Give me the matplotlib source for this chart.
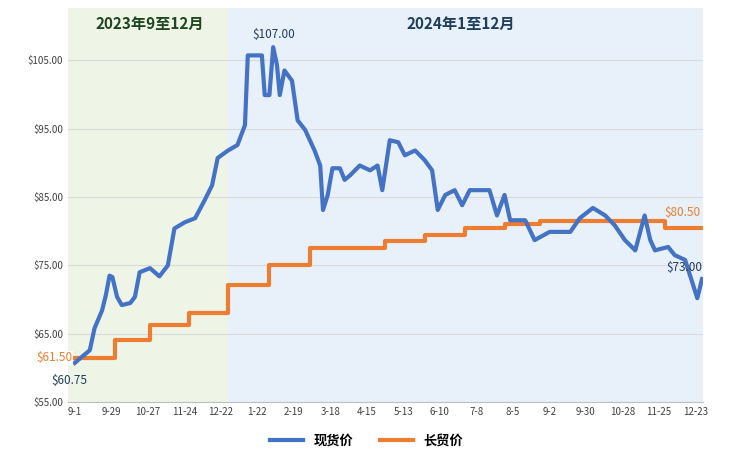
import matplotlib
matplotlib.use("Agg")
import matplotlib.pyplot as plt
import numpy as np

plt.rcParams['font.family'] = ['Noto Sans CJK SC', 'DejaVu Sans']

tick_labels = ["9-1","9-29","10-27","11-24","12-22","1-22","2-19","3-18","4-15","5-13",
               "6-10","7-8","8-5","9-2","9-30","10-28","11-25","12-23"]
spot_x = [0,0.3,1.6,2.1,2.9,3.3,3.7,4.0,4.5,5.0,5.9,6.4,6.9,8.0,9.0,9.9,10.6,11.7,12.8,13.8,14.6,15.2,16.3,
          17.3,18.1,18.4,19.9,20.2,20.7,21.1,21.5,21.8,22.3,23.1,23.7,24.5,25.5,26.1,26.4,26.9,27.4,28.2,28.7,
          29.3,30.3,31.4,32.2,32.7,33.5,34.4,35.1,36.2,37.2,38.0,38.6,39.4,40.4,41.2,42.0,44.1,44.9,45.7,46.3,
          47.9,48.9,50.5,52.7,53.7,55.1,56.4,57.4,58.5,59.6,60.6,61.2,61.7,63.1,63.8,64.9,65.6,66.2,66.7]
spot_y = [60.75,61.1,62.6,65.8,68.4,70.6,73.5,73.3,70.4,69.2,69.5,70.4,74.0,74.6,73.4,75.0,80.4,81.3,81.9,84.5,86.7,90.7,91.8,
          92.6,95.5,105.7,105.7,99.9,99.9,106.9,104.3,99.9,103.5,102.0,96.2,94.8,91.8,89.6,83.1,85.3,89.2,89.2,87.5,
          88.2,89.6,88.9,89.6,86.0,93.3,93.0,91.1,91.8,90.4,88.9,83.1,85.3,86.0,83.8,86.0,86.0,82.3,85.3,81.6,
          81.6,78.7,79.9,79.9,81.9,83.4,82.3,80.9,78.7,77.2,82.3,78.7,77.2,77.7,76.5,75.8,72.8,70.2,73.0]
long_edges = [-0.7,4.3,8.0,12.2,16.3,20.7,25.0,33.0,37.2,41.5,45.7,49.5,62.8,66.8]
long_vals = [61.5,64.1,66.3,68.0,72.1,75.0,77.5,78.5,79.5,80.5,81.0,81.5,80.5]

fig = plt.figure(figsize=(7.33,4.55), dpi=100)
ax = fig.add_axes([0.093,0.116,0.866,0.866])
ax.set_xlim(-0.7,66.8); ax.set_ylim(55,112.6)
ax.axvspan(-0.7,16.3,color='#eef5e6',zorder=0)
ax.axvspan(16.3,66.8,color='#e8f1fa',zorder=0)
for v in range(55,110,10):
    ax.axhline(v,color='#d9d9d9',lw=0.8,zorder=1)
ax.plot(spot_x,spot_y,color='#4472c4',lw=3,label='现货价',zorder=3)
sx = []; sy = []
for i,v in enumerate(long_vals):
    sx += [long_edges[i],long_edges[i+1]]; sy += [v,v]
ax.plot(sx,sy,color='#ed7d31',lw=3,label='长贸价',zorder=2)
ticks = np.linspace(0,66,18)
ax.set_xticks(ticks); ax.set_xticklabels(tick_labels,fontsize=7)
ax.set_yticks(range(55,110,10)); ax.set_yticklabels([f"${v}.00" for v in range(55,110,10)],fontsize=7)
for s in ax.spines.values(): s.set_visible(False)
ax.spines['bottom'].set_visible(True); ax.spines['bottom'].set_color('#bfbfbf')
ax.tick_params(length=0,colors='#404040')
ax.text(8.0,110.3,'2023年9至12月',ha='center',va='center',fontsize=11,fontweight='bold',color='#1e4620')
ax.text(41,110.3,'2024年1至12月',ha='center',va='center',fontsize=11,fontweight='bold',color='#1f3d5c')
ax.text(21.2,108.2,'$107.00',ha='center',fontsize=8.5,color='#1f3d5c')
ax.text(-0.6,57.6,'$60.75',ha='center',fontsize=8.5,color='#1f3d5c')
ax.text(-2.2,61.5,'$61.50',ha='center',va='center',fontsize=8.5,color='#ed7d31',clip_on=False,
        bbox=dict(fc='white',ec='none',pad=0.5),zorder=5)
ax.text(66.5,82.2,'$80.50',ha='right',fontsize=8.5,color='#ed7d31')
ax.text(66.7,74.2,'$73.00',ha='right',fontsize=8.5,color='#1f3d5c')
fig.legend(loc='lower center',ncol=2,frameon=False,prop={'size':9.5,'weight':'bold'},
           bbox_to_anchor=(0.5,-0.01),handlelength=2.5)
fig.savefig('out.png',dpi=100)
